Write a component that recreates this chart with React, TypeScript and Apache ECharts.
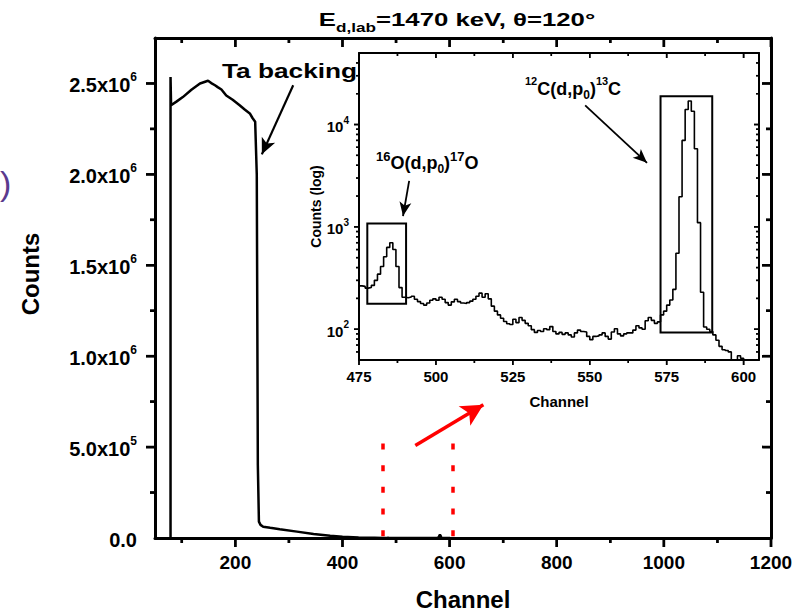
import React, { useEffect, useRef } from 'react';
import * as echarts from 'echarts';

const FONT = 'Liberation Sans, Arial, Helvetica, sans-serif';

// Full-range spectrum: Ta backing plateau, its edge and the low-count tail
const spectrumChannels = [79, 79, 80, 90, 102, 118, 134, 149, 155, 162, 167, 174, 183, 195, 208, 218, 227, 232, 237, 240, 242, 244, 247, 252, 265, 283, 315, 346, 377, 400, 430, 460];
const spectrumCounts = [0, 2.535e6, 2.38e6, 2.4e6, 2.425e6, 2.465e6, 2.5e6, 2.515e6, 2.502e6, 2.49e6, 2.48e6, 2.467e6, 2.434e6, 2.41e6, 2.38e6, 2.355e6, 2.335e6, 2.31e6, 2.29e6, 2.0e6, 4.0e5, 9.0e4, 7.2e4, 6.2e4, 5.6e4, 4.8e4, 3.5e4, 2.2e4, 1.2e4, 7.0e3, 3.0e3, 1.2e3];

// Zoomed window: one value per channel, starting at channel 475
const windowFirstChannel = 475;
const windowCounts = [
  265, 262, 252, 256, 268, 300, 345, 410, 510, 630, // 475-484
  700, 600, 410, 255, 205, 203, 206, 210, 196, 186, // 485-494
  178, 172, 180, 192, 198, 192, 205, 196, 182, 172, // 495-504
  185, 196, 186, 180, 178, 182, 188, 196, 210, 225, // 505-514
  205, 222, 198, 168, 150, 138, 128, 119, 113, 111, // 515-524
  125, 116, 130, 122, 114, 108, 99, 93, 97, 95, // 525-534
  101, 99, 106, 95, 90, 93, 89, 92, 88, 84, // 535-544
  92, 98, 95, 94, 85, 79, 85, 86, 88, 92, // 545-554
  85, 80, 94, 101, 90, 86, 90, 92, 92, 98, // 555-564
  108, 103, 100, 121, 130, 122, 114, 118, 138, 150, // 565-574
  172, 193, 245, 552, 1970, 7000, 14000, 17000, 13500, 5800, // 575-584
  1100, 230, 105, 100, 95, 88, 78, 68, 63, 62, // 585-594
  60, 50, 49, 55, 52, 47, 44, // 595-601
];

// Tick positions, full spectrum
const mainXMajor = [200, 400, 600, 800, 1000, 1200];
const mainXMinor = [100, 300, 500, 700, 900, 1100];
const mainYMajor = [0, 5e5, 1e6, 1.5e6, 2e6, 2.5e6];
const mainYMinor = [2.5e5, 7.5e5, 1.25e6, 1.75e6, 2.25e6];

// Tick positions, zoomed window (log counts)
const insetXMajor = [475, 500, 525, 550, 575, 600];
const insetXMinor = [487.5, 512.5, 537.5, 562.5, 587.5];
const insetYMajor = [100, 1000, 10000];
const insetYMinor = [60, 70, 80, 90, 200, 300, 400, 500, 600, 700, 800, 900, 2000, 3000, 4000, 5000, 6000, 7000, 8000, 9000, 20000, 30000, 40000];

// Channel window marked on the full spectrum
const windowEdges = [475.5, 605.5];
const windowMarkerTop = 5.2e5;

// Peak boxes: [channel from, channel to, counts low, counts high]
const oxygenBox = [477.7, 490.3, 177, 1080];
const carbonBox = [573, 589.8, 92.6, 18900];

// Annotation arrows in data coordinates: [from, to]
const backingArrow = [[308, 2.49e6], [249.5, 2.11e6]];
const zoomArrow = [[536, 5.09e5], [663, 7.33e5]];
const oxygenArrow = [[491.3, 2818], [489.3, 1274]];
const carbonArrow = [[548.5, 15400], [568.6, 4220]];

const MAIN = { left: 155, top: 38, width: 616, height: 500 };
const INSET = { left: 359, top: 53, width: 400, height: 307 };

type Range = { xMin: number; xMax: number; yMin: number; yMax: number };
type Tick = { at: number[]; size: number[]; offset: number[] };

// Frame ticks anchored on the frame edges: bottom/left point out, top/right point in
function frameTicks(r: Range, xs: number[], ys: number[], len: number, w: number): Tick[] {
  const items: Tick[] = [];
  xs.forEach((v) => {
    items.push({ at: [v, r.yMin], size: [w, len], offset: [0, len / 2] });
    items.push({ at: [v, r.yMax], size: [w, len], offset: [0, len / 2] });
  });
  ys.forEach((v) => {
    items.push({ at: [r.xMin, v], size: [len, w], offset: [-len / 2, 0] });
    items.push({ at: [r.xMax, v], size: [len, w], offset: [-len / 2, 0] });
  });
  return items;
}

// Ticks as marker symbols on a series of the same grid
function tickMarkers(ticks: Tick[]) {
  return {
    silent: true,
    animation: false,
    symbol: 'rect',
    label: { show: false },
    itemStyle: { color: '#000' },
    data: ticks.map((t) => ({ coord: t.at, symbol: 'rect', symbolSize: t.size, symbolOffset: t.offset })),
  };
}

// The same ticks as a scatter series
function tickSeries(xAxisIndex: number, yAxisIndex: number, ticks: Tick[]) {
  return {
    type: 'scatter',
    xAxisIndex,
    yAxisIndex,
    data: ticks.map((t) => ({ value: t.at, symbolSize: t.size, symbolOffset: t.offset })),
    symbol: 'rect',
    clip: false,
    itemStyle: { color: '#000' },
  };
}

function frameAxis(extra: any, position: string, width: number) {
  return {
    type: 'value',
    position,
    ...extra,
    axisLine: { show: true, onZero: false, lineStyle: { color: '#000', width } },
    axisTick: { show: false },
    axisLabel: { show: false },
    splitLine: { show: false },
  };
}

const boldText = (size: number) => ({ fontSize: size, fontWeight: 'bold', fontFamily: FONT, color: '#000' });

function buildOption() {
  const spectrumData = spectrumChannels
    .map((c, i) => [c, spectrumCounts[i]])
    .concat(windowCounts.map((v, i) => [windowFirstChannel + i, v]));
  const windowData = windowCounts.map((v, i) => [windowFirstChannel + i, v]);

  const mainRange: Range = { xMin: 50, xMax: 1200, yMin: 0, yMax: 2.75e6 };
  const insetRange: Range = { xMin: 475, xMax: 605, yMin: 50, yMax: 50000 };

  const mainX = { gridIndex: 0, min: mainRange.xMin, max: mainRange.xMax };
  const mainY = { gridIndex: 0, min: mainRange.yMin, max: mainRange.yMax };
  const insetX = { gridIndex: 1, min: insetRange.xMin, max: insetRange.xMax };
  const insetY = { gridIndex: 1, type: 'log', logBase: 10, min: insetRange.yMin, max: insetRange.yMax };

  const xAxes: any[] = [
    {
      ...frameAxis(mainX, 'bottom', 3),
      axisLabel: { show: true, customValues: mainXMajor, margin: 15, formatter: (v: number) => String(v), ...boldText(19) },
      name: 'Channel',
      nameLocation: 'middle',
      nameGap: 49,
      nameTextStyle: boldText(24),
    },
    frameAxis(mainX, 'top', 3),
    {
      ...frameAxis(insetX, 'bottom', 2),
      axisLabel: { show: true, customValues: insetXMajor, margin: 9, formatter: (v: number) => String(v), ...boldText(15) },
      name: 'Channel',
      nameLocation: 'middle',
      nameGap: 34,
      nameTextStyle: boldText(15),
    },
    frameAxis(insetX, 'top', 2),
  ];

  const yAxes: any[] = [
    {
      ...frameAxis(mainY, 'left', 3),
      axisLabel: {
        show: true,
        customValues: mainYMajor,
        margin: 18,
        formatter: (v: number) => {
          if (v === 0) return '{b|0.0}';
          const exp = Math.floor(Math.log10(v) + 1e-9);
          const mant = (v / Math.pow(10, exp)).toFixed(1);
          return `{b|${mant}x10}{s|${exp}}`;
        },
        rich: {
          b: { ...boldText(20), padding: [4, 0, 0, 0] },
          s: { ...boldText(12), verticalAlign: 'top' },
        },
      },
      name: 'Counts',
      nameLocation: 'middle',
      nameGap: 113,
      nameTextStyle: { ...boldText(24), padding: [0, 0, 0, 28] },
    },
    frameAxis(mainY, 'right', 3),
    {
      ...frameAxis(insetY, 'left', 2),
      axisLabel: {
        show: true,
        customValues: insetYMajor,
        margin: 10,
        formatter: (v: number) => `{b|10}{s|${Math.round(Math.log10(v))}}`,
        rich: {
          b: { ...boldText(15), padding: [4, 0, 0, 0] },
          s: { ...boldText(10), verticalAlign: 'top' },
        },
      },
      name: 'Counts (log)',
      nameLocation: 'middle',
      nameGap: 33,
      nameTextStyle: boldText(14),
    },
    frameAxis(insetY, 'right', 2),
  ];

  const mainTicks = [
    ...frameTicks(mainRange, mainXMajor, mainYMajor.filter((v) => v > 0), 9, 2.5),
    ...frameTicks(mainRange, mainXMinor, mainYMinor, 5, 2.5),
  ];
  const insetTicks = [
    ...frameTicks(insetRange, insetXMajor, insetYMajor, 5, 1.6),
    ...frameTicks(insetRange, insetXMinor, insetYMinor, 3, 1.5),
  ];

  const arrowLine = (pair: number[][], color: string, width: number, head: number[]) => [
    { coord: pair[0], symbol: 'none', lineStyle: { color, width, type: 'solid' } },
    { coord: pair[1], symbol: 'arrow', symbolSize: head },
  ];

  const box = (b: number[]) => [{ coord: [b[0], b[3]] }, { coord: [b[1], b[2]] }];

  return {
    animation: false,
    backgroundColor: '#fff',
    grid: [
      { ...MAIN, outerBoundsMode: 'none' },
      { ...INSET, outerBoundsMode: 'none' },
    ],
    xAxis: xAxes,
    yAxis: yAxes,
    series: [
      {
        type: 'line',
        xAxisIndex: 0,
        yAxisIndex: 0,
        data: spectrumData,
        symbol: 'none',
        clip: true,
        lineStyle: { color: '#000', width: 2.5 },
        markPoint: tickMarkers(mainTicks),
        markLine: {
          silent: true,
          animation: false,
          symbol: ['none', 'none'],
          label: { show: false },
          data: [
            ...windowEdges.map((c) => [
              { coord: [c, windowMarkerTop], lineStyle: { color: '#ff0000', width: 3.5, type: [6, 15.7] } },
              { coord: [c, 0] },
            ]),
            arrowLine(backingArrow, '#000', 2.2, [11, 16]),
            arrowLine(zoomArrow, '#ff0000', 3.5, [17, 22]),
          ],
        },
      },
      tickSeries(0, 0, mainTicks),
      {
        type: 'line',
        xAxisIndex: 2,
        yAxisIndex: 2,
        data: windowData,
        step: 'end',
        symbol: 'none',
        clip: true,
        lineStyle: { color: '#000', width: 1.6 },
        markPoint: tickMarkers(insetTicks),
        markArea: {
          silent: true,
          itemStyle: { color: 'rgba(0,0,0,0)', borderColor: '#000', borderWidth: 2 },
          label: { show: false },
          data: [box(oxygenBox), box(carbonBox)],
        },
        markLine: {
          silent: true,
          animation: false,
          symbol: ['none', 'arrow'],
          label: { show: false },
          data: [
            arrowLine(oxygenArrow, '#000', 1.8, [9, 14]),
            arrowLine(carbonArrow, '#000', 1.8, [9, 14]),
          ],
        },
      },
      tickSeries(2, 2, insetTicks),
    ],
    graphic: {
      elements: [
        {
          type: 'text',
          x: 222,
          y: 70,
          scaleX: 1.25,
          style: {
            text: 'Ta backing',
            fontSize: 21,
            fontWeight: 'bold',
            fontFamily: FONT,
            fill: '#000',
            verticalAlign: 'middle',
          },
        },
        {
          type: 'text',
          x: 457,
          y: 22,
          scaleX: 1.43,
          style: {
            text: '{b|E}{sub|d,lab}{b|=1470 keV, θ=120°}',
            align: 'center',
            verticalAlign: 'middle',
            fill: '#000',
            rich: {
              b: { fontSize: 18, fontWeight: 'bold', fontFamily: FONT, fill: '#000', padding: [0, 0, 5, 0] },
              sub: { fontSize: 12, fontWeight: 'bold', fontFamily: FONT, fill: '#000', verticalAlign: 'bottom' },
            },
          },
        },
        {
          type: 'text',
          x: 0,
          y: 183,
          style: {
            text: ')',
            fontSize: 34,
            fontFamily: FONT,
            fill: '#5b3a8e',
            verticalAlign: 'middle',
          },
        },
        {
          type: 'text',
          x: 376,
          y: 162,
          style: {
            text: '{s|16}{b|O(d,p}{u|0}{b|)}{s|17}{b|O}',
            verticalAlign: 'middle',
            fill: '#000',
            rich: {
              s: { fontSize: 13, fontWeight: 'bold', fontFamily: FONT, fill: '#000', verticalAlign: 'top' },
              b: { fontSize: 18, fontWeight: 'bold', fontFamily: FONT, fill: '#000', padding: [4, 0, 3, 0] },
              u: { fontSize: 12, fontWeight: 'bold', fontFamily: FONT, fill: '#000', verticalAlign: 'bottom' },
            },
          },
        },
        {
          type: 'text',
          x: 525,
          y: 88,
          style: {
            text: '{s|12}{b|C(d,p}{u|0}{b|)}{s|13}{b|C}',
            verticalAlign: 'middle',
            fill: '#000',
            rich: {
              s: { fontSize: 11, fontWeight: 'bold', fontFamily: FONT, fill: '#000', verticalAlign: 'top' },
              b: { fontSize: 18, fontWeight: 'bold', fontFamily: FONT, fill: '#000', padding: [4, 0, 3, 0] },
              u: { fontSize: 12, fontWeight: 'bold', fontFamily: FONT, fill: '#000', verticalAlign: 'bottom' },
            },
          },
        },
      ],
    },
  };
}

export default function App() {
  const ref = useRef<HTMLDivElement>(null);
  useEffect(() => {
    if (!ref.current) return;
    const chart = echarts.init(ref.current, undefined, { renderer: 'svg' });
    chart.setOption(buildOption() as any);
    chart.resize();
    return () => chart.dispose();
  }, []);
  return (
    <div
      ref={ref}
      style={{ position: 'fixed', left: 0, top: 0, width: 805, height: 614, background: '#fff' }}
    />
  );
}
